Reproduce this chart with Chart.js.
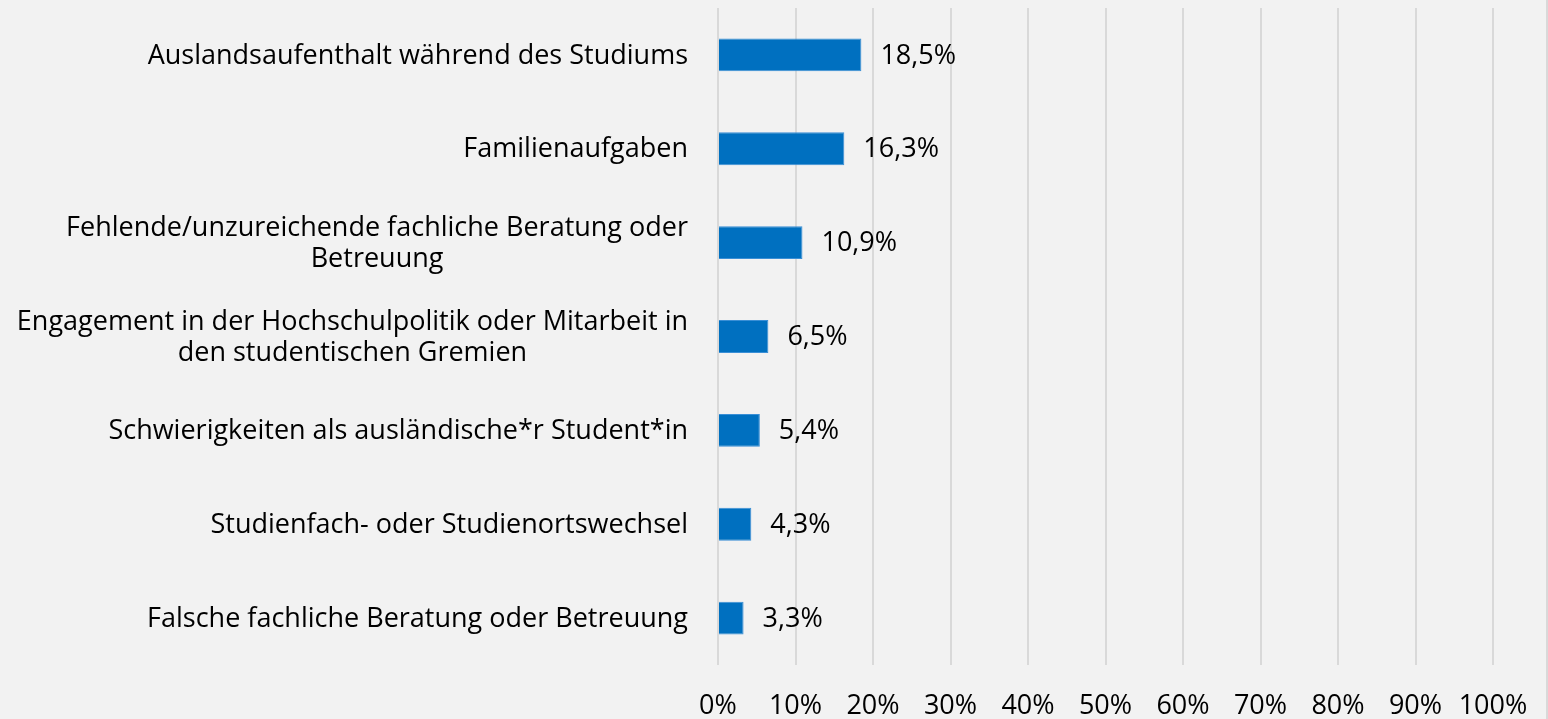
<!DOCTYPE html>
<html>
<head>
<meta charset="utf-8">
<script src="https://cdn.jsdelivr.net/npm/chart.js@4"></script>
<style>
  html, body { margin: 0; padding: 0; background: #f2f2f2; overflow: hidden; }
  #wrap { width: 1546px; height: 719px; border-right: 2px solid #d9d9d9; }
  canvas { display: block; }
</style>
</head>
<body>
<div id="wrap"><canvas id="barChart" width="1546" height="719"></canvas></div>
<script>
// Werte aus der Grafik
const categories = [
    ["Auslandsaufenthalt während des Studiums"],
    ["Familienaufgaben"],
    ["Fehlende/unzureichende fachliche Beratung oder", "Betreuung"],
    ["Engagement in der Hochschulpolitik oder Mitarbeit in", "den studentischen Gremien"],
    ["Schwierigkeiten als ausländische*r Student*in"],
    ["Studienfach- oder Studienortswechsel"],
    ["Falsche fachliche Beratung oder Betreuung"]
];
const values = [18.5, 16.3, 10.9, 6.5, 5.4, 4.3, 3.3];
const xTicks = [0, 10, 20, 30, 40, 50, 60, 70, 80, 90, 100];

const FONT = "'Open Sans'";
const SIZE = 27;

// Kategorienamen: Zeilen zentriert, Block rechtsbündig
const categoryLabels = {
    id: "categoryLabels",
    afterDraw(chart) {
        const ctx = chart.ctx;
        const yScale = chart.scales.y;
        const right = chart.chartArea.left - 30;
        const lineHeight = 31;
        ctx.save();
        ctx.font = SIZE + "px " + FONT;
        ctx.fillStyle = "#000";
        ctx.textBaseline = "middle";
        ctx.textAlign = "center";
        categories.forEach((lines, i) => {
            const y = yScale.getPixelForValue(i) + 1;
            const blockWidth = Math.max(...lines.map(l => ctx.measureText(l).width));
            const cx = right - blockWidth / 2;
            const top = y - (lines.length - 1) * lineHeight / 2;
            lines.forEach((l, j) => ctx.fillText(l, cx, top + j * lineHeight));
        });
        ctx.restore();
    }
};

// Prozentwerte rechts neben den Balken
const valueLabels = {
    id: "valueLabels",
    afterDatasetsDraw(chart) {
        const ctx = chart.ctx;
        const meta = chart.getDatasetMeta(0);
        ctx.save();
        ctx.font = SIZE + "px " + FONT;
        ctx.fillStyle = "#000";
        ctx.textBaseline = "middle";
        ctx.textAlign = "left";
        meta.data.forEach((bar, i) => {
            ctx.fillText(values[i].toFixed(1).replace(".", ",") + "%", bar.x + 19, bar.y + 1);
        });
        ctx.restore();
    }
};

const ctx = document.getElementById("barChart").getContext("2d");
new Chart(ctx, {
    type: "bar",
    data: {
        labels: categories.map(c => c.join(" ")),
        datasets: [{
            data: values,
            backgroundColor: "#0070c0",
            borderColor: "#3a8fd6",
            borderWidth: 1,
            barPercentage: 0.35,
            categoryPercentage: 1
        }]
    },
    options: {
        indexAxis: "y",
        responsive: false,
        animation: false,
        devicePixelRatio: 1,
        layout: { padding: { top: 8, right: 53, left: 0, bottom: 0 } },
        plugins: {
            legend: { display: false },
            tooltip: { enabled: false }
        },
        scales: {
            x: {
                min: 0,
                max: 100,
                afterBuildTicks: scale => { scale.ticks = xTicks.map(v => ({ value: v })); },
                afterFit: scale => {
                    scale.height = 54;
                    scale.paddingLeft = 0;
                    scale.paddingRight = 0;
                },
                grid: { color: "#d9d9d9", lineWidth: 2, drawTicks: false },
                border: { display: false },
                ticks: {
                    padding: 25,
                    color: "#000",
                    font: { family: FONT, size: SIZE },
                    maxRotation: 0,
                    callback: v => v + "%"
                }
            },
            y: {
                afterFit: scale => { scale.width = 718; },
                grid: { display: false },
                border: { display: false },
                ticks: { display: false }
            }
        }
    },
    plugins: [categoryLabels, valueLabels]
});
</script>
</body>
</html>
